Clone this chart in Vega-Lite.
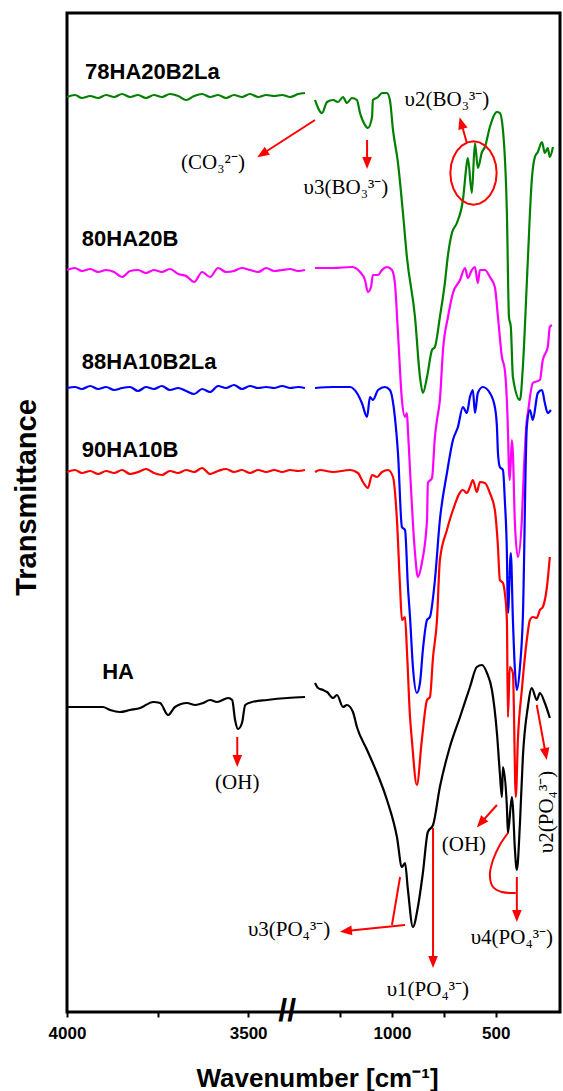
{
"$schema": "https://vega.github.io/schema/vega-lite/v6.json",
"autosize": "none",
"width": 493, "height": 999,
"padding": {"left": 67, "top": 13, "right": 3, "bottom": 79},
"background": "white",
"config": {"font": "Liberation Sans", "view": {"stroke": "black", "strokeWidth": 3}},
"datasets": {
"spec": [
{"s":"78HA20B2La","g":"L","w":4000,"t":91.5},{"s":"78HA20B2La","g":"L","w":3978,"t":91.7},{"s":"78HA20B2La","g":"L","w":3959,"t":91.4},{"s":"78HA20B2La","g":"L","w":3936,"t":91.6},{"s":"78HA20B2La","g":"L","w":3914,"t":91.4},{"s":"78HA20B2La","g":"L","w":3892,"t":91.7},{"s":"78HA20B2La","g":"L","w":3870,"t":91.5},{"s":"78HA20B2La","g":"L","w":3848,"t":91.8},{"s":"78HA20B2La","g":"L","w":3826,"t":91.5},{"s":"78HA20B2La","g":"L","w":3804,"t":91.7},{"s":"78HA20B2La","g":"L","w":3782,"t":91.4},{"s":"78HA20B2La","g":"L","w":3760,"t":91.7},{"s":"78HA20B2La","g":"L","w":3738,"t":91.5},{"s":"78HA20B2La","g":"L","w":3716,"t":91.8},{"s":"78HA20B2La","g":"L","w":3693,"t":91.6},{"s":"78HA20B2La","g":"L","w":3671,"t":91.2},{"s":"78HA20B2La","g":"L","w":3649,"t":91.6},{"s":"78HA20B2La","g":"L","w":3627,"t":91.8},{"s":"78HA20B2La","g":"L","w":3605,"t":91.5},{"s":"78HA20B2La","g":"L","w":3583,"t":91.7},{"s":"78HA20B2La","g":"L","w":3561,"t":91.4},{"s":"78HA20B2La","g":"L","w":3539,"t":91.7},{"s":"78HA20B2La","g":"L","w":3517,"t":91.5},{"s":"78HA20B2La","g":"L","w":3495,"t":91.8},{"s":"78HA20B2La","g":"L","w":3472,"t":91.5},{"s":"78HA20B2La","g":"L","w":3450,"t":91.7},{"s":"78HA20B2La","g":"L","w":3428,"t":91.6},{"s":"78HA20B2La","g":"L","w":3406,"t":91.7},{"s":"78HA20B2La","g":"L","w":3384,"t":91.5},{"s":"78HA20B2La","g":"L","w":3362,"t":91.8},{"s":"78HA20B2La","g":"L","w":3343,"t":91.9},
{"s":"78HA20B2La","g":"R","w":1371,"t":91.2},{"s":"78HA20B2La","g":"R","w":1337,"t":89.9},{"s":"78HA20B2La","g":"R","w":1313,"t":91.0},{"s":"78HA20B2La","g":"R","w":1284,"t":91.2},{"s":"78HA20B2La","g":"R","w":1260,"t":91.0},{"s":"78HA20B2La","g":"R","w":1236,"t":91.5},{"s":"78HA20B2La","g":"R","w":1217,"t":90.9},{"s":"78HA20B2La","g":"R","w":1193,"t":91.4},{"s":"78HA20B2La","g":"R","w":1169,"t":91.2},{"s":"78HA20B2La","g":"R","w":1154,"t":89.9},{"s":"78HA20B2La","g":"R","w":1130,"t":88.7},{"s":"78HA20B2La","g":"R","w":1116,"t":88.4},{"s":"78HA20B2La","g":"R","w":1096,"t":89.5},{"s":"78HA20B2La","g":"R","w":1092,"t":91.2},{"s":"78HA20B2La","g":"R","w":1067,"t":91.5},{"s":"78HA20B2La","g":"R","w":1048,"t":91.9},{"s":"78HA20B2La","g":"R","w":1024,"t":91.9},{"s":"78HA20B2La","g":"R","w":1010,"t":91.2},{"s":"78HA20B2La","g":"R","w":995,"t":88.2},{"s":"78HA20B2La","g":"R","w":971,"t":84.9},{"s":"78HA20B2La","g":"R","w":947,"t":79.9},{"s":"78HA20B2La","g":"R","w":928,"t":75.5},{"s":"78HA20B2La","g":"R","w":889,"t":69.5},{"s":"78HA20B2La","g":"R","w":865,"t":63.5},{"s":"78HA20B2La","g":"R","w":851,"t":61.9},{"s":"78HA20B2La","g":"R","w":831,"t":63.5},{"s":"78HA20B2La","g":"R","w":807,"t":66.2},{"s":"78HA20B2La","g":"R","w":793,"t":66.5},{"s":"78HA20B2La","g":"R","w":769,"t":69.5},{"s":"78HA20B2La","g":"R","w":745,"t":72.9},{"s":"78HA20B2La","g":"R","w":730,"t":75.7},{"s":"78HA20B2La","g":"R","w":711,"t":77.9},{"s":"78HA20B2La","g":"R","w":687,"t":78.9},{"s":"78HA20B2La","g":"R","w":658,"t":81.2},{"s":"78HA20B2La","g":"R","w":639,"t":84.9},{"s":"78HA20B2La","g":"R","w":634,"t":85.4},{"s":"78HA20B2La","g":"R","w":615,"t":81.9},{"s":"78HA20B2La","g":"R","w":600,"t":86.9},{"s":"78HA20B2La","g":"R","w":586,"t":84.4},{"s":"78HA20B2La","g":"R","w":566,"t":86.0},{"s":"78HA20B2La","g":"R","w":552,"t":86.5},{"s":"78HA20B2La","g":"R","w":528,"t":88.5},{"s":"78HA20B2La","g":"R","w":494,"t":90.0},{"s":"78HA20B2La","g":"R","w":480,"t":89.9},{"s":"78HA20B2La","g":"R","w":465,"t":88.2},{"s":"78HA20B2La","g":"R","w":446,"t":79.9},{"s":"78HA20B2La","g":"R","w":436,"t":69.5},{"s":"78HA20B2La","g":"R","w":427,"t":68.5},{"s":"78HA20B2La","g":"R","w":417,"t":63.5},{"s":"78HA20B2La","g":"R","w":383,"t":61.2},{"s":"78HA20B2La","g":"R","w":369,"t":64.5},{"s":"78HA20B2La","g":"R","w":350,"t":72.9},{"s":"78HA20B2La","g":"R","w":345,"t":75.2},{"s":"78HA20B2La","g":"R","w":326,"t":83.2},{"s":"78HA20B2La","g":"R","w":311,"t":85.5},{"s":"78HA20B2La","g":"R","w":297,"t":86.0},{"s":"78HA20B2La","g":"R","w":277,"t":87.0},{"s":"78HA20B2La","g":"R","w":263,"t":85.9},{"s":"78HA20B2La","g":"R","w":249,"t":86.4},{"s":"78HA20B2La","g":"R","w":239,"t":85.5},{"s":"78HA20B2La","g":"R","w":224,"t":86.5},
{"s":"80HA20B","g":"L","w":4000,"t":74.2},{"s":"80HA20B","g":"L","w":3978,"t":74.4},{"s":"80HA20B","g":"L","w":3959,"t":74.1},{"s":"80HA20B","g":"L","w":3936,"t":74.3},{"s":"80HA20B","g":"L","w":3914,"t":74.0},{"s":"80HA20B","g":"L","w":3892,"t":74.2},{"s":"80HA20B","g":"L","w":3870,"t":74.0},{"s":"80HA20B","g":"L","w":3848,"t":73.5},{"s":"80HA20B","g":"L","w":3826,"t":74.1},{"s":"80HA20B","g":"L","w":3804,"t":74.2},{"s":"80HA20B","g":"L","w":3782,"t":73.9},{"s":"80HA20B","g":"L","w":3760,"t":74.2},{"s":"80HA20B","g":"L","w":3738,"t":74.0},{"s":"80HA20B","g":"L","w":3716,"t":74.3},{"s":"80HA20B","g":"L","w":3693,"t":73.8},{"s":"80HA20B","g":"L","w":3671,"t":73.6},{"s":"80HA20B","g":"L","w":3649,"t":73.0},{"s":"80HA20B","g":"L","w":3627,"t":74.0},{"s":"80HA20B","g":"L","w":3605,"t":73.5},{"s":"80HA20B","g":"L","w":3583,"t":74.4},{"s":"80HA20B","g":"L","w":3561,"t":74.0},{"s":"80HA20B","g":"L","w":3539,"t":74.1},{"s":"80HA20B","g":"L","w":3517,"t":74.4},{"s":"80HA20B","g":"L","w":3495,"t":74.2},{"s":"80HA20B","g":"L","w":3472,"t":74.0},{"s":"80HA20B","g":"L","w":3450,"t":74.4},{"s":"80HA20B","g":"L","w":3428,"t":74.1},{"s":"80HA20B","g":"L","w":3406,"t":74.2},{"s":"80HA20B","g":"L","w":3384,"t":74.3},{"s":"80HA20B","g":"L","w":3362,"t":74.1},{"s":"80HA20B","g":"L","w":3343,"t":74.2},
{"s":"80HA20B","g":"R","w":1371,"t":74.4},{"s":"80HA20B","g":"R","w":1284,"t":74.4},{"s":"80HA20B","g":"R","w":1193,"t":74.5},{"s":"80HA20B","g":"R","w":1154,"t":74.0},{"s":"80HA20B","g":"R","w":1130,"t":73.2},{"s":"80HA20B","g":"R","w":1116,"t":72.0},{"s":"80HA20B","g":"R","w":1101,"t":72.5},{"s":"80HA20B","g":"R","w":1092,"t":73.7},{"s":"80HA20B","g":"R","w":1067,"t":73.7},{"s":"80HA20B","g":"R","w":1048,"t":74.2},{"s":"80HA20B","g":"R","w":1024,"t":74.5},{"s":"80HA20B","g":"R","w":1000,"t":74.2},{"s":"80HA20B","g":"R","w":986,"t":72.9},{"s":"80HA20B","g":"R","w":971,"t":67.9},{"s":"80HA20B","g":"R","w":952,"t":61.2},{"s":"80HA20B","g":"R","w":937,"t":59.5},{"s":"80HA20B","g":"R","w":928,"t":59.9},{"s":"80HA20B","g":"R","w":923,"t":58.2},{"s":"80HA20B","g":"R","w":913,"t":54.2},{"s":"80HA20B","g":"R","w":889,"t":45.9},{"s":"80HA20B","g":"R","w":875,"t":43.5},{"s":"80HA20B","g":"R","w":856,"t":44.9},{"s":"80HA20B","g":"R","w":831,"t":49.2},{"s":"80HA20B","g":"R","w":827,"t":52.9},{"s":"80HA20B","g":"R","w":807,"t":53.4},{"s":"80HA20B","g":"R","w":793,"t":57.5},{"s":"80HA20B","g":"R","w":783,"t":59.2},{"s":"80HA20B","g":"R","w":769,"t":61.2},{"s":"80HA20B","g":"R","w":754,"t":66.2},{"s":"80HA20B","g":"R","w":730,"t":69.5},{"s":"80HA20B","g":"R","w":706,"t":71.9},{"s":"80HA20B","g":"R","w":672,"t":73.2},{"s":"80HA20B","g":"R","w":648,"t":74.4},{"s":"80HA20B","g":"R","w":634,"t":73.4},{"s":"80HA20B","g":"R","w":615,"t":74.2},{"s":"80HA20B","g":"R","w":600,"t":74.5},{"s":"80HA20B","g":"R","w":586,"t":72.9},{"s":"80HA20B","g":"R","w":576,"t":74.2},{"s":"80HA20B","g":"R","w":552,"t":74.2},{"s":"80HA20B","g":"R","w":528,"t":73.5},{"s":"80HA20B","g":"R","w":504,"t":72.5},{"s":"80HA20B","g":"R","w":489,"t":69.5},{"s":"80HA20B","g":"R","w":470,"t":65.5},{"s":"80HA20B","g":"R","w":456,"t":64.2},{"s":"80HA20B","g":"R","w":441,"t":58.2},{"s":"80HA20B","g":"R","w":436,"t":54.2},{"s":"80HA20B","g":"R","w":432,"t":53.2},{"s":"80HA20B","g":"R","w":422,"t":57.2},{"s":"80HA20B","g":"R","w":417,"t":55.9},{"s":"80HA20B","g":"R","w":408,"t":49.2},{"s":"80HA20B","g":"R","w":393,"t":45.5},{"s":"80HA20B","g":"R","w":374,"t":49.2},{"s":"80HA20B","g":"R","w":364,"t":54.2},{"s":"80HA20B","g":"R","w":350,"t":59.2},{"s":"80HA20B","g":"R","w":345,"t":59.9},{"s":"80HA20B","g":"R","w":321,"t":62.9},{"s":"80HA20B","g":"R","w":287,"t":63.2},{"s":"80HA20B","g":"R","w":273,"t":65.2},{"s":"80HA20B","g":"R","w":253,"t":66.2},{"s":"80HA20B","g":"R","w":249,"t":66.5},{"s":"80HA20B","g":"R","w":239,"t":68.5},{"s":"80HA20B","g":"R","w":229,"t":68.7},
{"s":"88HA10B2La","g":"L","w":4000,"t":62.4},{"s":"88HA10B2La","g":"L","w":3978,"t":62.5},{"s":"88HA10B2La","g":"L","w":3959,"t":62.3},{"s":"88HA10B2La","g":"L","w":3936,"t":62.6},{"s":"88HA10B2La","g":"L","w":3914,"t":62.3},{"s":"88HA10B2La","g":"L","w":3892,"t":62.5},{"s":"88HA10B2La","g":"L","w":3870,"t":62.2},{"s":"88HA10B2La","g":"L","w":3848,"t":62.4},{"s":"88HA10B2La","g":"L","w":3826,"t":62.5},{"s":"88HA10B2La","g":"L","w":3804,"t":62.1},{"s":"88HA10B2La","g":"L","w":3782,"t":62.5},{"s":"88HA10B2La","g":"L","w":3760,"t":62.3},{"s":"88HA10B2La","g":"L","w":3738,"t":62.6},{"s":"88HA10B2La","g":"L","w":3716,"t":62.2},{"s":"88HA10B2La","g":"L","w":3693,"t":62.4},{"s":"88HA10B2La","g":"L","w":3671,"t":62.1},{"s":"88HA10B2La","g":"L","w":3649,"t":61.8},{"s":"88HA10B2La","g":"L","w":3627,"t":62.3},{"s":"88HA10B2La","g":"L","w":3605,"t":62.0},{"s":"88HA10B2La","g":"L","w":3583,"t":62.6},{"s":"88HA10B2La","g":"L","w":3561,"t":62.4},{"s":"88HA10B2La","g":"L","w":3539,"t":62.7},{"s":"88HA10B2La","g":"L","w":3517,"t":62.3},{"s":"88HA10B2La","g":"L","w":3495,"t":62.6},{"s":"88HA10B2La","g":"L","w":3472,"t":62.4},{"s":"88HA10B2La","g":"L","w":3450,"t":62.5},{"s":"88HA10B2La","g":"L","w":3428,"t":62.4},{"s":"88HA10B2La","g":"L","w":3406,"t":62.6},{"s":"88HA10B2La","g":"L","w":3384,"t":62.4},{"s":"88HA10B2La","g":"L","w":3362,"t":62.5},{"s":"88HA10B2La","g":"L","w":3343,"t":62.4},
{"s":"88HA10B2La","g":"R","w":1371,"t":62.4},{"s":"88HA10B2La","g":"R","w":1284,"t":62.5},{"s":"88HA10B2La","g":"R","w":1202,"t":62.5},{"s":"88HA10B2La","g":"R","w":1169,"t":61.9},{"s":"88HA10B2La","g":"R","w":1145,"t":60.9},{"s":"88HA10B2La","g":"R","w":1120,"t":59.5},{"s":"88HA10B2La","g":"R","w":1106,"t":61.5},{"s":"88HA10B2La","g":"R","w":1092,"t":61.2},{"s":"88HA10B2La","g":"R","w":1067,"t":62.2},{"s":"88HA10B2La","g":"R","w":1034,"t":62.5},{"s":"88HA10B2La","g":"R","w":1010,"t":62.2},{"s":"88HA10B2La","g":"R","w":986,"t":59.5},{"s":"88HA10B2La","g":"R","w":971,"t":55.9},{"s":"88HA10B2La","g":"R","w":952,"t":48.5},{"s":"88HA10B2La","g":"R","w":937,"t":48.2},{"s":"88HA10B2La","g":"R","w":923,"t":42.5},{"s":"88HA10B2La","g":"R","w":913,"t":39.5},{"s":"88HA10B2La","g":"R","w":899,"t":34.5},{"s":"88HA10B2La","g":"R","w":880,"t":31.9},{"s":"88HA10B2La","g":"R","w":865,"t":32.9},{"s":"88HA10B2La","g":"R","w":851,"t":36.2},{"s":"88HA10B2La","g":"R","w":831,"t":39.2},{"s":"88HA10B2La","g":"R","w":817,"t":39.5},{"s":"88HA10B2La","g":"R","w":793,"t":43.2},{"s":"88HA10B2La","g":"R","w":769,"t":49.2},{"s":"88HA10B2La","g":"R","w":735,"t":53.9},{"s":"88HA10B2La","g":"R","w":706,"t":57.2},{"s":"88HA10B2La","g":"R","w":682,"t":58.5},{"s":"88HA10B2La","g":"R","w":658,"t":60.5},{"s":"88HA10B2La","g":"R","w":639,"t":59.9},{"s":"88HA10B2La","g":"R","w":624,"t":61.5},{"s":"88HA10B2La","g":"R","w":610,"t":62.2},{"s":"88HA10B2La","g":"R","w":600,"t":59.9},{"s":"88HA10B2La","g":"R","w":586,"t":61.9},{"s":"88HA10B2La","g":"R","w":562,"t":62.5},{"s":"88HA10B2La","g":"R","w":528,"t":61.9},{"s":"88HA10B2La","g":"R","w":504,"t":60.5},{"s":"88HA10B2La","g":"R","w":494,"t":58.5},{"s":"88HA10B2La","g":"R","w":489,"t":55.9},{"s":"88HA10B2La","g":"R","w":480,"t":54.5},{"s":"88HA10B2La","g":"R","w":465,"t":54.2},{"s":"88HA10B2La","g":"R","w":456,"t":51.2},{"s":"88HA10B2La","g":"R","w":446,"t":45.9},{"s":"88HA10B2La","g":"R","w":441,"t":39.9},{"s":"88HA10B2La","g":"R","w":427,"t":45.9},{"s":"88HA10B2La","g":"R","w":417,"t":39.2},{"s":"88HA10B2La","g":"R","w":408,"t":34.5},{"s":"88HA10B2La","g":"R","w":398,"t":32.2},{"s":"88HA10B2La","g":"R","w":383,"t":34.5},{"s":"88HA10B2La","g":"R","w":369,"t":39.5},{"s":"88HA10B2La","g":"R","w":350,"t":58.5},{"s":"88HA10B2La","g":"R","w":335,"t":60.2},{"s":"88HA10B2La","g":"R","w":321,"t":59.2},{"s":"88HA10B2La","g":"R","w":297,"t":61.9},{"s":"88HA10B2La","g":"R","w":277,"t":62.2},{"s":"88HA10B2La","g":"R","w":263,"t":60.9},{"s":"88HA10B2La","g":"R","w":249,"t":59.9},{"s":"88HA10B2La","g":"R","w":234,"t":60.2},
{"s":"90HA10B","g":"L","w":4000,"t":54.0},{"s":"90HA10B","g":"L","w":3978,"t":54.2},{"s":"90HA10B","g":"L","w":3959,"t":53.9},{"s":"90HA10B","g":"L","w":3936,"t":54.1},{"s":"90HA10B","g":"L","w":3914,"t":53.8},{"s":"90HA10B","g":"L","w":3892,"t":54.1},{"s":"90HA10B","g":"L","w":3870,"t":53.9},{"s":"90HA10B","g":"L","w":3848,"t":54.2},{"s":"90HA10B","g":"L","w":3826,"t":53.8},{"s":"90HA10B","g":"L","w":3804,"t":54.0},{"s":"90HA10B","g":"L","w":3782,"t":54.3},{"s":"90HA10B","g":"L","w":3760,"t":53.9},{"s":"90HA10B","g":"L","w":3738,"t":53.7},{"s":"90HA10B","g":"L","w":3716,"t":54.1},{"s":"90HA10B","g":"L","w":3693,"t":53.9},{"s":"90HA10B","g":"L","w":3671,"t":54.2},{"s":"90HA10B","g":"L","w":3649,"t":54.0},{"s":"90HA10B","g":"L","w":3627,"t":54.4},{"s":"90HA10B","g":"L","w":3605,"t":53.8},{"s":"90HA10B","g":"L","w":3583,"t":54.1},{"s":"90HA10B","g":"L","w":3561,"t":54.3},{"s":"90HA10B","g":"L","w":3539,"t":54.0},{"s":"90HA10B","g":"L","w":3517,"t":54.2},{"s":"90HA10B","g":"L","w":3495,"t":53.9},{"s":"90HA10B","g":"L","w":3472,"t":54.2},{"s":"90HA10B","g":"L","w":3450,"t":54.0},{"s":"90HA10B","g":"L","w":3428,"t":54.2},{"s":"90HA10B","g":"L","w":3406,"t":54.0},{"s":"90HA10B","g":"L","w":3384,"t":54.2},{"s":"90HA10B","g":"L","w":3362,"t":54.1},{"s":"90HA10B","g":"L","w":3343,"t":54.2},
{"s":"90HA10B","g":"R","w":1371,"t":54.0},{"s":"90HA10B","g":"R","w":1347,"t":54.2},{"s":"90HA10B","g":"R","w":1284,"t":54.0},{"s":"90HA10B","g":"R","w":1202,"t":54.2},{"s":"90HA10B","g":"R","w":1164,"t":53.9},{"s":"90HA10B","g":"R","w":1140,"t":53.0},{"s":"90HA10B","g":"R","w":1116,"t":52.4},{"s":"90HA10B","g":"R","w":1096,"t":53.7},{"s":"90HA10B","g":"R","w":1072,"t":53.5},{"s":"90HA10B","g":"R","w":1048,"t":54.0},{"s":"90HA10B","g":"R","w":1019,"t":54.2},{"s":"90HA10B","g":"R","w":995,"t":53.5},{"s":"90HA10B","g":"R","w":976,"t":49.2},{"s":"90HA10B","g":"R","w":961,"t":42.5},{"s":"90HA10B","g":"R","w":952,"t":39.2},{"s":"90HA10B","g":"R","w":937,"t":39.5},{"s":"90HA10B","g":"R","w":928,"t":36.2},{"s":"90HA10B","g":"R","w":913,"t":29.5},{"s":"90HA10B","g":"R","w":904,"t":27.2},{"s":"90HA10B","g":"R","w":880,"t":22.7},{"s":"90HA10B","g":"R","w":856,"t":27.2},{"s":"90HA10B","g":"R","w":831,"t":31.2},{"s":"90HA10B","g":"R","w":817,"t":31.5},{"s":"90HA10B","g":"R","w":802,"t":35.5},{"s":"90HA10B","g":"R","w":783,"t":39.2},{"s":"90HA10B","g":"R","w":769,"t":45.2},{"s":"90HA10B","g":"R","w":735,"t":48.2},{"s":"90HA10B","g":"R","w":706,"t":50.2},{"s":"90HA10B","g":"R","w":658,"t":52.2},{"s":"90HA10B","g":"R","w":639,"t":51.9},{"s":"90HA10B","g":"R","w":624,"t":52.5},{"s":"90HA10B","g":"R","w":610,"t":53.2},{"s":"90HA10B","g":"R","w":591,"t":52.0},{"s":"90HA10B","g":"R","w":576,"t":53.0},{"s":"90HA10B","g":"R","w":552,"t":52.9},{"s":"90HA10B","g":"R","w":528,"t":51.9},{"s":"90HA10B","g":"R","w":504,"t":50.2},{"s":"90HA10B","g":"R","w":489,"t":46.5},{"s":"90HA10B","g":"R","w":480,"t":43.2},{"s":"90HA10B","g":"R","w":465,"t":42.9},{"s":"90HA10B","g":"R","w":456,"t":41.9},{"s":"90HA10B","g":"R","w":446,"t":39.2},{"s":"90HA10B","g":"R","w":441,"t":29.5},{"s":"90HA10B","g":"R","w":432,"t":34.5},{"s":"90HA10B","g":"R","w":417,"t":33.9},{"s":"90HA10B","g":"R","w":403,"t":21.5},{"s":"90HA10B","g":"R","w":393,"t":27.2},{"s":"90HA10B","g":"R","w":374,"t":32.2},{"s":"90HA10B","g":"R","w":350,"t":37.2},{"s":"90HA10B","g":"R","w":335,"t":39.2},{"s":"90HA10B","g":"R","w":321,"t":39.5},{"s":"90HA10B","g":"R","w":302,"t":39.4},{"s":"90HA10B","g":"R","w":287,"t":40.2},{"s":"90HA10B","g":"R","w":273,"t":40.5},{"s":"90HA10B","g":"R","w":253,"t":42.5},{"s":"90HA10B","g":"R","w":239,"t":45.5},
{"s":"HA","g":"L","w":4000,"t":30.5},{"s":"HA","g":"L","w":3983,"t":30.5},{"s":"HA","g":"L","w":3928,"t":30.5},{"s":"HA","g":"L","w":3901,"t":30.5},{"s":"HA","g":"L","w":3881,"t":30.2},{"s":"HA","g":"L","w":3854,"t":30.0},{"s":"HA","g":"L","w":3826,"t":30.2},{"s":"HA","g":"L","w":3798,"t":30.4},{"s":"HA","g":"L","w":3762,"t":31.0},{"s":"HA","g":"L","w":3743,"t":30.9},{"s":"HA","g":"L","w":3721,"t":29.7},{"s":"HA","g":"L","w":3702,"t":30.5},{"s":"HA","g":"L","w":3669,"t":30.9},{"s":"HA","g":"L","w":3646,"t":30.7},{"s":"HA","g":"L","w":3624,"t":30.9},{"s":"HA","g":"L","w":3605,"t":31.2},{"s":"HA","g":"L","w":3586,"t":31.0},{"s":"HA","g":"L","w":3555,"t":31.4},{"s":"HA","g":"L","w":3544,"t":31.2},{"s":"HA","g":"L","w":3536,"t":29.2},{"s":"HA","g":"L","w":3528,"t":28.3},{"s":"HA","g":"L","w":3517,"t":28.9},{"s":"HA","g":"L","w":3508,"t":30.7},{"s":"HA","g":"L","w":3489,"t":31.0},{"s":"HA","g":"L","w":3448,"t":31.2},{"s":"HA","g":"L","w":3392,"t":31.4},{"s":"HA","g":"L","w":3343,"t":31.5},
{"s":"HA","g":"R","w":1371,"t":32.9},{"s":"HA","g":"R","w":1356,"t":32.4},{"s":"HA","g":"R","w":1332,"t":32.2},{"s":"HA","g":"R","w":1313,"t":32.0},{"s":"HA","g":"R","w":1284,"t":31.4},{"s":"HA","g":"R","w":1265,"t":31.7},{"s":"HA","g":"R","w":1236,"t":30.5},{"s":"HA","g":"R","w":1217,"t":30.7},{"s":"HA","g":"R","w":1188,"t":30.0},{"s":"HA","g":"R","w":1169,"t":28.5},{"s":"HA","g":"R","w":1120,"t":26.2},{"s":"HA","g":"R","w":1072,"t":23.9},{"s":"HA","g":"R","w":1024,"t":21.2},{"s":"HA","g":"R","w":976,"t":17.5},{"s":"HA","g":"R","w":952,"t":14.5},{"s":"HA","g":"R","w":937,"t":14.9},{"s":"HA","g":"R","w":923,"t":12.2},{"s":"HA","g":"R","w":899,"t":8.5},{"s":"HA","g":"R","w":875,"t":10.5},{"s":"HA","g":"R","w":851,"t":13.9},{"s":"HA","g":"R","w":827,"t":18.0},{"s":"HA","g":"R","w":802,"t":18.7},{"s":"HA","g":"R","w":769,"t":22.5},{"s":"HA","g":"R","w":721,"t":26.5},{"s":"HA","g":"R","w":672,"t":29.5},{"s":"HA","g":"R","w":624,"t":32.5},{"s":"HA","g":"R","w":591,"t":34.5},{"s":"HA","g":"R","w":566,"t":34.7},{"s":"HA","g":"R","w":542,"t":33.9},{"s":"HA","g":"R","w":518,"t":32.2},{"s":"HA","g":"R","w":494,"t":27.9},{"s":"HA","g":"R","w":480,"t":23.9},{"s":"HA","g":"R","w":470,"t":21.5},{"s":"HA","g":"R","w":465,"t":24.5},{"s":"HA","g":"R","w":446,"t":20.5},{"s":"HA","g":"R","w":441,"t":17.9},{"s":"HA","g":"R","w":422,"t":21.5},{"s":"HA","g":"R","w":417,"t":20.5},{"s":"HA","g":"R","w":408,"t":16.5},{"s":"HA","g":"R","w":398,"t":14.2},{"s":"HA","g":"R","w":383,"t":18.9},{"s":"HA","g":"R","w":369,"t":25.5},{"s":"HA","g":"R","w":345,"t":30.5},{"s":"HA","g":"R","w":326,"t":32.4},{"s":"HA","g":"R","w":302,"t":31.2},{"s":"HA","g":"R","w":287,"t":31.9},{"s":"HA","g":"R","w":263,"t":30.9},{"s":"HA","g":"R","w":239,"t":29.4}
],
"labels": [
{"txt":"78HA20B2La","w":3950,"t":94.0},{"txt":"80HA20B","w":3959,"t":77.3},{"txt":"88HA10B2La","w":3959,"t":65.0},{"txt":"90HA10B","w":3959,"t":56.2},{"txt":"HA","w":3903,"t":34.0}
],
"notes": [
{"txt":"(CO₃²⁻)","w":3597,"t":84.9,"k":"h"},
{"txt":"υ3(BO₃³⁻)","w":1222,"t":82.4,"k":"h"},
{"txt":"υ2(BO₃³⁻)","w":735,"t":91.2,"k":"h"},
{"txt":"(OH)","w":3530,"t":22.9,"k":"h"},
{"txt":"(OH)","w":653,"t":16.7,"k":"h"},
{"txt":"υ3(PO₄³⁻)","w":3387,"t":8.2,"k":"h"},
{"txt":"υ1(PO₄³⁻)","w":827,"t":2.2,"k":"h"},
{"txt":"υ4(PO₄³⁻)","w":422,"t":7.4,"k":"h"},
{"txt":"υ2(PO₄³⁻)","w":253,"t":20.0,"k":"v"}
],
"arrows": [
{"w":3461,"t":85.8,"w2":1371,"t2":89.2,"dir":"sw"},
{"w":1120,"t":84.9,"w2":1120,"t2":87.2,"dir":"s"},
{"w":666,"t":88.9,"w2":639,"t2":86.9,"dir":"nnw"},
{"w":3530,"t":25.1,"w2":3530,"t2":27.5,"dir":"s"},
{"w":572,"t":18.9,"w2":494,"t2":20.7,"dir":"sw2"},
{"w":1222,"t":8.1,"w2":937,"t2":8.7,"dir":"w"},
{"w":1000,"t":8.7,"w2":961,"t2":13.5,"dir":"none"},
{"w":802,"t":5.0,"w2":802,"t2":18.4,"dir":"s"},
{"w":398,"t":9.6,"w2":398,"t2":13.5,"dir":"s"},
{"w":259,"t":25.8,"w2":302,"t2":30.7,"dir":"sse"}
],
"curve": [
{"w":441,"t":17.9,"k":1},{"w":480,"t":16.7,"k":2},{"w":513,"t":15.2,"k":3},{"w":528,"t":13.7,"k":4},{"w":513,"t":12.5,"k":5},{"w":470,"t":12.0,"k":6},{"w":403,"t":11.9,"k":7}
],
"ring": [{"w":607,"t":83.9}],
"brk": [{"w":3392,"t":0.1}]
},
"encoding": {
"x": {"field": "w", "type": "quantitative",
 "scale": {"domain": [4000, 3343, 1371, 190], "range": [0, 238, 248, 493], "nice": false, "zero": false},
 "axis": {"title": "Wavenumber [cm⁻¹]", "values": [4000, 3750, 3500, 1250, 1000, 750, 500], "format": "d",
  "labelExpr": "(datum.value == 3750 || datum.value == 1250 || datum.value == 750) ? '' : datum.label",
  "labelFontSize": 17, "labelFontWeight": "bold", "labelColor": "black", "labelPadding": 8, "labelFlush": false, "labelOverlap": false,
  "tickSize": 5, "tickWidth": 2, "tickColor": "black", "domain": false, "grid": false,
  "titleFontSize": 26, "titleFontWeight": "bold", "titleColor": "black", "titleX": 250, "titleY": 74, "titleBaseline": "alphabetic", "titleAlign": "center"}},
"y": {"field": "t", "type": "quantitative",
 "scale": {"domain": [0, 99.9], "nice": false, "zero": false},
 "axis": {"title": "Transmittance", "ticks": false, "labels": false, "domain": false, "grid": false,
  "titleFontSize": 29, "titleFontWeight": "bold", "titleColor": "black", "titleX": -32, "titleY": 484, "titleAngle": 270, "titleBaseline": "alphabetic", "titleAlign": "center"}}
},
"layer": [
{"data": {"name": "spec"}, "mark": {"type": "line", "strokeWidth": 2.2, "interpolate": "monotone"},
 "encoding": {"color": {"field": "s", "type": "nominal", "legend": null,
   "scale": {"domain": ["78HA20B2La", "80HA20B", "88HA10B2La", "90HA10B", "HA"], "range": ["#008000", "#ff00ff", "#0000ff", "#ff0000", "#000000"]}},
  "detail": {"field": "g"}}},
{"data": {"name": "labels"}, "mark": {"type": "text", "align": "left", "baseline": "middle", "fontSize": 22, "fontWeight": "bold", "color": "black", "font": "Liberation Sans"},
 "encoding": {"text": {"field": "txt"}}},
{"data": {"name": "notes"}, "transform": [{"filter": "datum.k == 'h'"}],
 "mark": {"type": "text", "align": "center", "baseline": "middle", "fontSize": 21, "color": "black", "font": "Liberation Serif"},
 "encoding": {"text": {"field": "txt"}}},
{"data": {"name": "notes"}, "transform": [{"filter": "datum.k == 'v'"}],
 "mark": {"type": "text", "align": "center", "baseline": "middle", "fontSize": 21, "color": "black", "font": "Liberation Serif", "angle": 270},
 "encoding": {"text": {"field": "txt"}}},
{"data": {"name": "arrows"}, "mark": {"type": "rule", "color": "#ff0000", "strokeWidth": 2},
 "encoding": {"x2": {"field": "w2"}, "y2": {"field": "t2"}}},
{"data": {"name": "arrows"},
 "layer": [
  {"transform": [{"filter": "datum.dir == 's'"}], "mark": {"type": "point", "shape": "M0,-1L-0.8,1L0.8,1Z", "size": 144, "filled": true, "color": "#ff0000", "opacity": 1, "angle": 180}},
  {"transform": [{"filter": "datum.dir == 'sw'"}], "mark": {"type": "point", "shape": "M0,-1L-0.8,1L0.8,1Z", "size": 144, "filled": true, "color": "#ff0000", "opacity": 1, "angle": 237}},
  {"transform": [{"filter": "datum.dir == 'nnw'"}], "mark": {"type": "point", "shape": "M0,-1L-0.8,1L0.8,1Z", "size": 144, "filled": true, "color": "#ff0000", "opacity": 1, "angle": 344}},
  {"transform": [{"filter": "datum.dir == 'sw2'"}], "mark": {"type": "point", "shape": "M0,-1L-0.8,1L0.8,1Z", "size": 144, "filled": true, "color": "#ff0000", "opacity": 1, "angle": 221}},
  {"transform": [{"filter": "datum.dir == 'w'"}], "mark": {"type": "point", "shape": "M0,-1L-0.8,1L0.8,1Z", "size": 144, "filled": true, "color": "#ff0000", "opacity": 1, "angle": 264}},
  {"transform": [{"filter": "datum.dir == 'sse'"}], "mark": {"type": "point", "shape": "M0,-1L-0.8,1L0.8,1Z", "size": 144, "filled": true, "color": "#ff0000", "opacity": 1, "angle": 170}}
 ]},
{"data": {"name": "curve"}, "mark": {"type": "line", "color": "#ff0000", "strokeWidth": 2, "interpolate": "catmull-rom"},
 "encoding": {"order": {"field": "k", "type": "quantitative"}}},
{"data": {"name": "ring"}, "mark": {"type": "point", "filled": false, "color": "#ff0000", "strokeWidth": 2, "opacity": 1, "size": 4020,
  "shape": "M0,-1L0.189,-0.966L0.365,-0.866L0.516,-0.707L0.632,-0.5L0.705,-0.259L0.73,0L0.705,0.259L0.632,0.5L0.516,0.707L0.365,0.866L0.189,0.966L0,1L-0.189,0.966L-0.365,0.866L-0.516,0.707L-0.632,0.5L-0.705,0.259L-0.73,0L-0.705,-0.259L-0.632,-0.5L-0.516,-0.707L-0.365,-0.866L-0.189,-0.966Z"}},
{"data": {"name": "brk"}, "mark": {"type": "text", "text": "//", "align": "center", "baseline": "middle", "fontSize": 32, "fontWeight": "bold", "color": "black"}}
]
}
